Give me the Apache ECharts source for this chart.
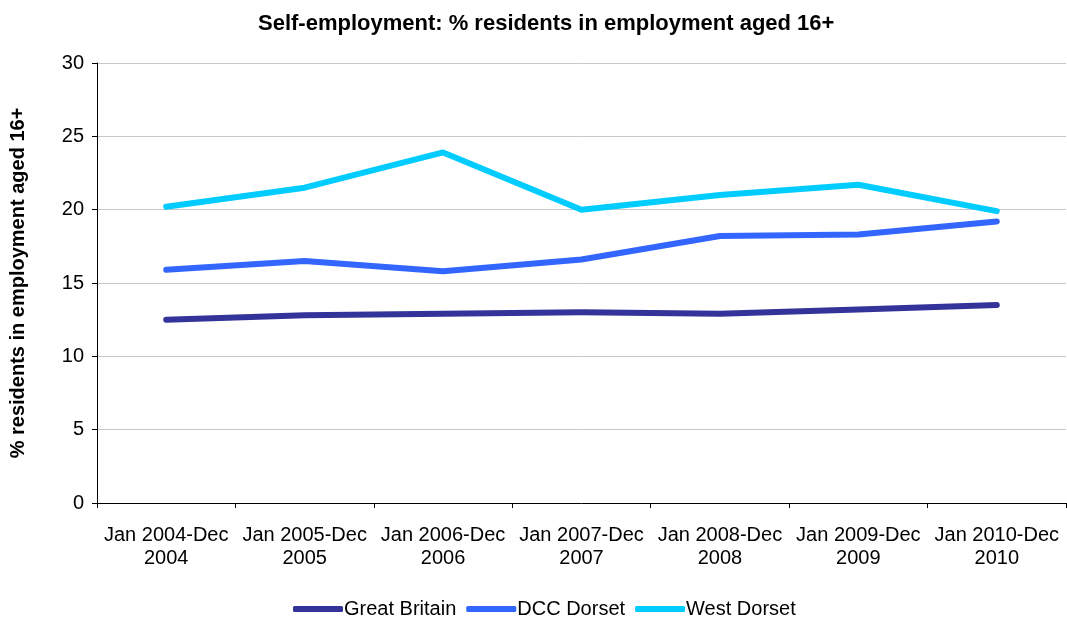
<!DOCTYPE html>
<html>
<head>
<meta charset="utf-8">
<script src="https://cdn.jsdelivr.net/npm/echarts@6/dist/echarts.min.js"></script>
<style>
  html, body { margin: 0; padding: 0; background: #fff; }
  #chart { width: 1067px; height: 619px; }
</style>
</head>
<body>
<div id="chart"></div>
<script>
// Annual population survey periods
const periods = [
  'Jan 2004-Dec\n2004', 'Jan 2005-Dec\n2005', 'Jan 2006-Dec\n2006', 'Jan 2007-Dec\n2007',
  'Jan 2008-Dec\n2008', 'Jan 2009-Dec\n2009', 'Jan 2010-Dec\n2010'
];
// % of residents in employment (16+) who are self-employed
const greatBritain = [12.5, 12.8, 12.9, 13.0, 12.9, 13.2, 13.5];
const dccDorset    = [15.9, 16.5, 15.8, 16.6, 18.2, 18.3, 19.2];
const westDorset   = [20.2, 21.5, 23.9, 20.0, 21.0, 21.7, 19.9];
const yTicks = [0, 5, 10, 15, 20, 25, 30];

const font = 'Arial, "Liberation Sans", sans-serif';
const chart = echarts.init(document.getElementById('chart'), null, { renderer: 'canvas' });

function lineSeries(name, data, color) {
  return {
    name, type: 'line', data,
    symbol: 'none',
    lineStyle: { width: 6, color, cap: 'round', join: 'round' },
    itemStyle: { color },
    animation: false
  };
}

chart.setOption({
  backgroundColor: '#fff',
  title: {
    text: 'Self-employment: % residents in employment aged 16+',
    left: 253, top: 8,
    textStyle: { fontFamily: font, fontSize: 22, fontWeight: 'bold', color: '#000' }
  },
  legend: {
    top: 594, left: 288,
    itemWidth: 50, itemHeight: 6, itemGap: 10,
    icon: 'roundRect',
    textStyle: { fontFamily: font, fontSize: 20, color: '#000', padding: [0, 0, 0, -4] },
    data: ['Great Britain', 'DCC Dorset', 'West Dorset']
  },
  grid: { left: 97, right: 1, top: 63, bottom: 116, containLabel: false, outerBoundsMode: 'none' },
  xAxis: {
    type: 'category', data: periods, boundaryGap: true,
    axisLine: { lineStyle: { color: '#000', width: 1 } },
    axisTick: { show: true, length: 5, inside: false, lineStyle: { color: '#000' } },
    axisLabel: { fontFamily: font, fontSize: 20, color: '#000', lineHeight: 23, margin: 21, interval: 0 }
  },
  yAxis: {
    type: 'value', min: 0, max: 30, interval: 5,
    name: '% residents in employment aged 16+',
    nameLocation: 'middle', nameGap: 69, nameRotate: 90,
    nameTextStyle: { fontFamily: font, fontSize: 20, fontWeight: 'bold', color: '#000' },
    axisLine: { show: true, lineStyle: { color: '#000', width: 1 } },
    axisTick: { show: true, length: 5, lineStyle: { color: '#000' } },
    axisLabel: {
      fontFamily: font, fontSize: 20, color: '#000', margin: 13,
      formatter: v => yTicks.includes(v) ? String(v) : ''
    },
    splitLine: { show: true, lineStyle: { color: '#c8c8c8', width: 1 } }
  },
  series: [
    lineSeries('Great Britain', greatBritain, '#333399'),
    lineSeries('DCC Dorset', dccDorset, '#3366FF'),
    lineSeries('West Dorset', westDorset, '#00CCFF')
  ]
});
</script>
</body>
</html>
